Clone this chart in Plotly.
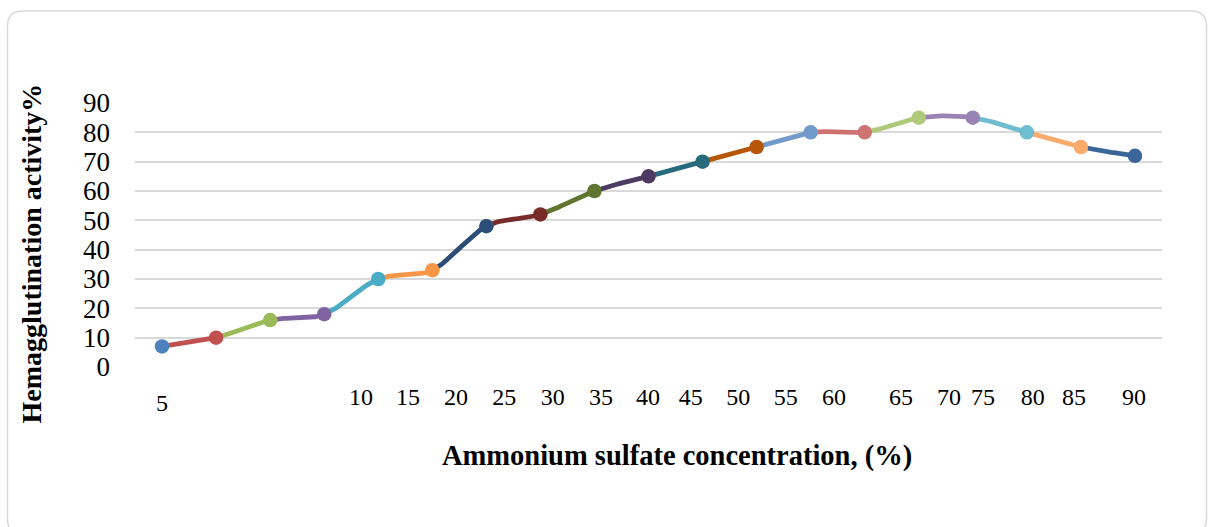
import plotly.graph_objects as go
import numpy as np

# ---- data ----
activity = [7, 10, 16, 18, 30, 33, 48, 52, 60, 65, 70, 75, 80, 80, 85, 85, 80, 75, 72]
point_colors = ["#4F81BD", "#C0504D", "#9BBB59", "#8064A2", "#4BACC6", "#F79646",
                "#2C4D75", "#772C2A", "#5F7530", "#4D3B62", "#276A7C", "#B65708",
                "#729ACA", "#CD7371", "#AFC97A", "#9983B5", "#6FBDD1", "#F9AB6B",
                "#3A6699"]
tick_labels = ["5", "10", "15", "20", "25", "30", "35", "40", "45", "50",
               "55", "60", "65", "70", "75", "80", "85", "90"]
tick_positions = [0.0, 3.68, 4.55, 5.44, 6.33, 7.23, 8.12, 8.99, 9.78, 10.66,
                  11.54, 12.43, 13.67, 14.56, 15.19, 16.11, 16.87, 17.98]
y_ticks = [0, 10, 20, 30, 40, 50, 60, 70, 80, 90]

x_title = "Ammonium sulfate concentration, (%)"
y_title = "Hemagglutination activity%"

# ---- layout geometry (pixels) ----
W, H = 1208, 527
L, R, T, B = 135, 46, 103, 160
pw, ph = W - L - R, H - T - B

def px_x(p):
    return (p - L) / pw

def px_y(p):
    return (H - B - p) / ph

n = len(activity)
xs = np.arange(n, dtype=float)
ys = np.array(activity, dtype=float)

fig = go.Figure()

# smoothed segments (Catmull-Rom style Bezier), coloured by end point
t = np.linspace(0, 1, 25)
for i in range(1, n):
    i0, i1, i2, i3 = max(i - 2, 0), i - 1, i, min(i + 1, n - 1)
    P0 = np.array([xs[i0], ys[i0]]); P1 = np.array([xs[i1], ys[i1]])
    P2 = np.array([xs[i2], ys[i2]]); P3 = np.array([xs[i3], ys[i3]])
    C1 = P1 + (P2 - P0) / 6.0
    C2 = P2 - (P3 - P1) / 6.0
    curve = (np.outer((1 - t) ** 3, P1) + np.outer(3 * (1 - t) ** 2 * t, C1)
             + np.outer(3 * (1 - t) * t ** 2, C2) + np.outer(t ** 3, P2))
    fig.add_trace(go.Scatter(x=curve[:, 0], y=curve[:, 1], mode="lines",
                             line=dict(color=point_colors[i], width=4.8),
                             hoverinfo="skip", showlegend=False))

fig.add_trace(go.Scatter(x=xs, y=ys, mode="markers",
                         marker=dict(color=point_colors, size=14.5, line=dict(width=0)),
                         showlegend=False))

fig.update_layout(
    width=W, height=H,
    margin=dict(l=L, r=R, t=T, b=B),
    paper_bgcolor="white", plot_bgcolor="white",
    font=dict(family="Liberation Serif", color="#000000"),
    xaxis=dict(range=[-0.5, n - 0.5], showgrid=False, zeroline=False, showline=False,
               tickmode="array", tickvals=tick_positions[1:], ticktext=tick_labels[1:],
               tickfont=dict(size=24, family="Liberation Serif"), ticks="",
               ticklabelstandoff=13),
    yaxis=dict(range=[0, 90], tickmode="array", tickvals=y_ticks,
               showgrid=True, gridcolor="#D9D9D9", gridwidth=1.5, zeroline=False,
               showline=False, ticks="",
               tickfont=dict(size=27, family="Liberation Serif"), ticklabelstandoff=24),
)

# first category label sits slightly lower
fig.add_annotation(x=tick_positions[0], y=px_y(403), xref="x", yref="paper",
                   xanchor="center", yanchor="middle",
                   text=tick_labels[0], showarrow=False,
                   font=dict(size=24, family="Liberation Serif"))

fig.add_annotation(x=px_x(677), y=px_y(456), xref="paper", yref="paper",
                   xanchor="center", yanchor="middle",
                   text="<b>" + x_title + "</b>", showarrow=False,
                   font=dict(size=28.5, family="Liberation Serif"))
fig.add_annotation(x=px_x(31), y=px_y(253.5), xref="paper", yref="paper",
                   xanchor="center", yanchor="middle",
                   text="<b>" + y_title + "</b>", showarrow=False, textangle=-90,
                   font=dict(size=28, family="Liberation Serif"))

# rounded chart border
x0, x1, y0, y1, r = 7.5, 1206.5, 11, 534, 15
path = (f"M {px_x(x0 + r)},{px_y(y0)} L {px_x(x1 - r)},{px_y(y0)} "
        f"Q {px_x(x1)},{px_y(y0)} {px_x(x1)},{px_y(y0 + r)} "
        f"L {px_x(x1)},{px_y(y1 - r)} Q {px_x(x1)},{px_y(y1)} {px_x(x1 - r)},{px_y(y1)} "
        f"L {px_x(x0 + r)},{px_y(y1)} Q {px_x(x0)},{px_y(y1)} {px_x(x0)},{px_y(y1 - r)} "
        f"L {px_x(x0)},{px_y(y0 + r)} Q {px_x(x0)},{px_y(y0)} {px_x(x0 + r)},{px_y(y0)} Z")
fig.add_shape(type="path", path=path, xref="paper", yref="paper",
              line=dict(color="#D9D9D9", width=1.5), layer="below")

fig.write_html("out.html")
